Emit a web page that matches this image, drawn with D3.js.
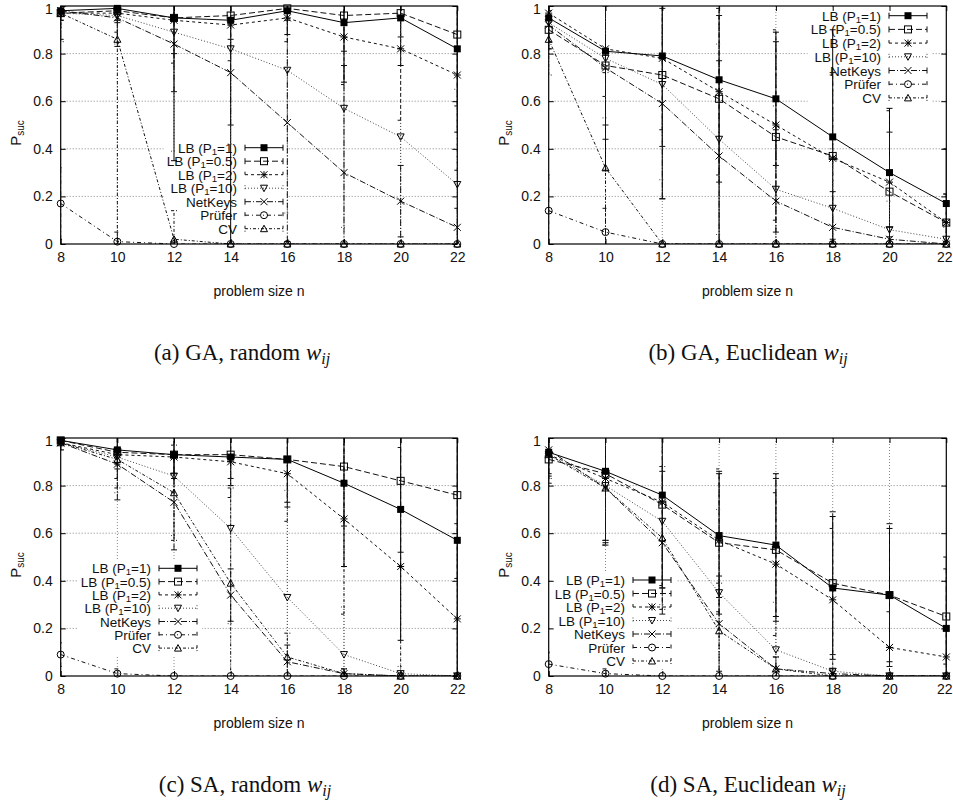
<!DOCTYPE html>
<html>
<head>
<meta charset="utf-8">
<script src="https://cdn.jsdelivr.net/npm/d3@7"></script>
<style>
  body { margin: 0; background: #fff; }
  text { font-family: "Liberation Sans", Arial, sans-serif; fill: #111; }
</style>
</head>
<body>
<script>
// problem sizes and y ticks
var sizes = [8, 10, 12, 14, 16, 18, 20, 22];
var yTicks = [0, 0.2, 0.4, 0.6, 0.8, 1];
var seriesNames = ["LB (P1=1)", "LB (P1=0.5)", "LB (P1=2)", "LB (P1=10)", "NetKeys", "Prüfer", "CV"];

// (a) GA, random w_ij  -- one row per series, same order as seriesNames
var gaRandomVals = [
  [0.98, 0.99, 0.95, 0.94, 0.98, 0.93, 0.95, 0.82],
  [0.97, 0.98, 0.95, 0.96, 0.99, 0.96, 0.97, 0.88],
  [0.97, 0.97, 0.94, 0.92, 0.95, 0.87, 0.82, 0.71],
  [0.97, 0.96, 0.89, 0.82, 0.73, 0.57, 0.45, 0.25],
  [0.98, 0.95, 0.84, 0.72, 0.51, 0.30, 0.18, 0.07],
  [0.17, 0.01, 0, 0, 0, 0, 0, 0],
  [0.97, 0.86, 0.02, 0, 0, 0, 0, 0]
];
var gaRandomErr = [
  [0.04, 0.05, 0.6, 0.95, 0.1, 0.25, 0.2, 0.35],
  [0.03, 0.05, 0.15, 0.1, 0.05, 0.15, 0.1, 0.3],
  [0.05, 0.08, 0.18, 0.15, 0.1, 0.2, 0.3, 0.4],
  [0.06, 0.12, 0.5, 0.4, 0.6, 0.5, 0.5, 0.4],
  [0.12, 0.12, 0.2, 0.22, 0.5, 0.45, 0.15, 0.08],
  [0.15, 0.04, 0, 0, 0, 0, 0, 0],
  [0.12, 0.86, 0.12, 0, 0, 0, 0, 0]
];

// (b) GA, Euclidean w_ij
var gaEuclidVals = [
  [0.95, 0.81, 0.79, 0.69, 0.61, 0.45, 0.30, 0.17],
  [0.90, 0.75, 0.71, 0.61, 0.45, 0.37, 0.22, 0.09],
  [0.97, 0.82, 0.78, 0.64, 0.50, 0.36, 0.26, 0.09],
  [0.93, 0.78, 0.67, 0.44, 0.23, 0.15, 0.06, 0.02],
  [0.92, 0.74, 0.59, 0.37, 0.18, 0.07, 0.02, 0.0],
  [0.14, 0.05, 0, 0, 0, 0, 0, 0],
  [0.86, 0.32, 0, 0, 0, 0, 0, 0]
];
var gaEuclidErr = [
  [0.1, 0.5, 0.6, 0.7, 0.28, 0.45, 0.27, 0.23],
  [0.08, 0.25, 0.3, 0.35, 0.4, 0.35, 0.25, 0.12],
  [0.06, 0.2, 0.3, 0.35, 0.4, 0.35, 0.3, 0.12],
  [0.08, 0.25, 0.4, 0.4, 0.35, 0.25, 0.12, 0.05],
  [0.1, 0.3, 0.4, 0.4, 0.3, 0.15, 0.05, 0.01],
  [0.15, 0.1, 0, 0, 0, 0, 0, 0],
  [0.15, 0.4, 0, 0, 0, 0, 0, 0]
];

// (c) SA, random w_ij
var saRandomVals = [
  [0.99, 0.95, 0.93, 0.92, 0.91, 0.81, 0.70, 0.57],
  [0.99, 0.94, 0.93, 0.93, 0.91, 0.88, 0.82, 0.76],
  [0.98, 0.93, 0.92, 0.90, 0.85, 0.66, 0.46, 0.24],
  [0.98, 0.92, 0.84, 0.62, 0.33, 0.09, 0.01, 0],
  [0.98, 0.89, 0.73, 0.34, 0.06, 0.01, 0, 0],
  [0.09, 0.01, 0, 0, 0, 0, 0, 0],
  [0.98, 0.91, 0.77, 0.39, 0.08, 0.01, 0, 0]
];
var saRandomErr = [
  [0.01, 0.06, 0.1, 0.12, 0.18, 0.35, 0.55, 0.6],
  [0.01, 0.07, 0.08, 0.1, 0.2, 0.25, 0.3, 0.35],
  [0.02, 0.1, 0.15, 0.15, 0.2, 0.4, 0.5, 0.4],
  [0.03, 0.15, 0.25, 0.4, 0.45, 0.2, 0.03, 0],
  [0.03, 0.15, 0.2, 0.11, 0.07, 0.02, 0, 0],
  [0.05, 0.02, 0, 0, 0, 0, 0, 0],
  [0.03, 0.12, 0.2, 0.4, 0.1, 0.02, 0, 0]
];

// (d) SA, Euclidean w_ij
var saEuclidVals = [
  [0.94, 0.86, 0.76, 0.59, 0.55, 0.37, 0.34, 0.20],
  [0.91, 0.85, 0.72, 0.56, 0.53, 0.39, 0.34, 0.25],
  [0.93, 0.83, 0.73, 0.57, 0.47, 0.32, 0.12, 0.08],
  [0.93, 0.80, 0.65, 0.35, 0.11, 0.02, 0, 0],
  [0.95, 0.79, 0.56, 0.22, 0.03, 0.01, 0, 0],
  [0.05, 0.01, 0, 0, 0, 0, 0, 0],
  [0.93, 0.79, 0.58, 0.19, 0.03, 0, 0, 0]
];
var saEuclidErr = [
  [0.1, 0.3, 0.39, 0.26, 0.3, 0.3, 0.28, 0.3],
  [0.1, 0.3, 0.35, 0.3, 0.3, 0.3, 0.3, 0.2],
  [0.1, 0.28, 0.35, 0.3, 0.3, 0.3, 0.15, 0.12],
  [0.1, 0.25, 0.35, 0.35, 0.2, 0.05, 0, 0],
  [0.1, 0.22, 0.3, 0.2, 0.05, 0.02, 0, 0],
  [0.05, 0.02, 0, 0, 0, 0, 0, 0],
  [0.1, 0.22, 0.3, 0.2, 0.05, 0, 0, 0]
];

var captions = ["(a) GA, random ", "(b) GA, Euclidean ", "(c) SA, random ", "(d) SA, Euclidean "];

// line styles per series (gnuplot-like dash types)
var dashes = [null, "6,3", "3,3", "1,2", "6,2,1,2", "4,3,1,3", "3,2,1,2"];
var lineColors = ["#000", "#111", "#111", "#444", "#111", "#111", "#111"];
var markers = ["fsq", "osq", "star", "dtri", "cross", "circ", "utri"];

var panels = [
  { id: "a", vals: gaRandomVals, err: gaRandomErr, cap: captions[0], capX: 242,
    left: 60.7, right: 457.3, top: 6, bottom: 244, legX: 237, legY: 147.7, legStep: 13.5 },
  { id: "b", vals: gaEuclidVals, err: gaEuclidErr, cap: captions[1], capX: 748,
    left: 548.7, right: 946.3, top: 6, bottom: 244, legX: 881, legY: 15.7, legStep: 13.7 },
  { id: "c", vals: saRandomVals, err: saRandomErr, cap: captions[2], capX: 245,
    left: 60.7, right: 457.3, top: 438, bottom: 676, legX: 151, legY: 568.3, legStep: 13.3 },
  { id: "d", vals: saEuclidVals, err: saEuclidErr, cap: captions[3], capX: 748,
    left: 548.7, right: 946.3, top: 438, bottom: 676, legX: 625, legY: 580, legStep: 13.5 }
];

var svg = d3.select("body").append("svg")
  .attr("width", 953)
  .attr("height", 804);

function drawMarker(g, type, cx, cy) {
  var s = 3.5;
  if (type === "fsq") {
    g.append("rect").attr("x", cx - s).attr("y", cy - s).attr("width", 2 * s).attr("height", 2 * s)
      .attr("fill", "#000");
  } else if (type === "osq") {
    g.append("rect").attr("x", cx - s).attr("y", cy - s).attr("width", 2 * s).attr("height", 2 * s)
      .attr("fill", "none").attr("stroke", "#000").attr("stroke-width", 1);
  } else if (type === "star") {
    g.append("path")
      .attr("d", "M" + (cx - s) + "," + cy + "H" + (cx + s) + "M" + cx + "," + (cy - s) + "V" + (cy + s) +
        "M" + (cx - s) + "," + (cy - s) + "L" + (cx + s) + "," + (cy + s) +
        "M" + (cx - s) + "," + (cy + s) + "L" + (cx + s) + "," + (cy - s))
      .attr("stroke", "#000").attr("stroke-width", 1).attr("fill", "none");
  } else if (type === "cross") {
    g.append("path")
      .attr("d", "M" + (cx - s) + "," + (cy - s) + "L" + (cx + s) + "," + (cy + s) +
        "M" + (cx - s) + "," + (cy + s) + "L" + (cx + s) + "," + (cy - s))
      .attr("stroke", "#000").attr("stroke-width", 1).attr("fill", "none");
  } else if (type === "circ") {
    g.append("circle").attr("cx", cx).attr("cy", cy).attr("r", s)
      .attr("fill", "none").attr("stroke", "#000").attr("stroke-width", 1);
  } else if (type === "dtri") {
    g.append("path")
      .attr("d", "M" + (cx - s) + "," + (cy - s + 0.5) + "L" + (cx + s) + "," + (cy - s + 0.5) + "L" + cx + "," + (cy + s) + "Z")
      .attr("fill", "none").attr("stroke", "#000").attr("stroke-width", 1);
  } else if (type === "utri") {
    g.append("path")
      .attr("d", "M" + (cx - s) + "," + (cy + s - 0.5) + "L" + (cx + s) + "," + (cy + s - 0.5) + "L" + cx + "," + (cy - s) + "Z")
      .attr("fill", "none").attr("stroke", "#000").attr("stroke-width", 1);
  }
}

// label text with P1 subscript
function richLabel(textSel, label, size) {
  var parts = label.split("P1");
  if (parts.length === 1) {
    textSel.append("tspan").text(label);
    return;
  }
  textSel.append("tspan").text(parts[0] + "P");
  textSel.append("tspan").attr("dy", 2).style("font-size", (size * 0.72) + "px").text("1");
  textSel.append("tspan").attr("dy", -2).text(parts[1]);
}

panels.forEach(function(p) {
  var x = d3.scaleLinear().domain([8, 22]).range([p.left, p.right]);
  var y = d3.scaleLinear().domain([0, 1]).range([p.bottom, p.top]);
  var g = svg.append("g").attr("class", "panel-" + p.id);

  svg.append("clipPath").attr("id", "clip-" + p.id)
    .append("rect")
      .attr("x", p.left).attr("y", p.top)
      .attr("width", p.right - p.left).attr("height", p.bottom - p.top);

  // grid
  var grid = g.append("g").attr("class", "grid")
    .attr("stroke", "#888").attr("stroke-width", 1).attr("stroke-dasharray", "1,2");
  grid.selectAll(".gx").data(sizes.slice(1, -1)).enter().append("line")
    .attr("x1", function(d) { return x(d); }).attr("x2", function(d) { return x(d); })
    .attr("y1", p.top).attr("y2", p.bottom);
  grid.selectAll(".gy").data(yTicks.slice(1, -1)).enter().append("line")
    .attr("x1", p.left).attr("x2", p.right)
    .attr("y1", function(d) { return y(d); }).attr("y2", function(d) { return y(d); });

  // legend box (opaque)
  var legFont = 13.5;
  var leg = g.append("g").attr("class", "legend");
  var legBg = leg.append("rect").attr("fill", "#fff");
  var sx0 = p.legX + 8, sx1 = p.legX + 46, sxm = p.legX + 27;
  var texts = [];
  seriesNames.forEach(function(name, i) {
    var ly = p.legY + i * p.legStep;
    var t = leg.append("text")
      .attr("x", p.legX).attr("y", ly + 5)
      .attr("text-anchor", "end")
      .style("font-size", legFont + "px");
    richLabel(t, name, legFont);
    texts.push(t);
  });
  var minLeft = d3.min(texts, function(t) { return t.node().getBBox().x; });
  legBg.attr("x", minLeft - 3).attr("y", p.legY - 8)
    .attr("width", sx1 + 5 - (minLeft - 3))
    .attr("height", (seriesNames.length - 1) * p.legStep + 16);
  seriesNames.forEach(function(name, i) {
    var ly = p.legY + i * p.legStep;
    var sg = leg.append("g");
    sg.append("path")
      .attr("d", "M" + sx0 + "," + ly + "H" + sx1 +
        "M" + sx0 + "," + (ly - 3) + "V" + (ly + 3) +
        "M" + sx1 + "," + (ly - 3) + "V" + (ly + 3))
      .attr("stroke", lineColors[i]).attr("stroke-width", 1).attr("fill", "none")
      .attr("stroke-dasharray", dashes[i]);
    drawMarker(sg, markers[i], sxm, ly);
  });

  // data: error bars, lines, points
  var data = g.append("g").attr("clip-path", "url(#clip-" + p.id + ")");
  var line = d3.line()
    .x(function(d, j) { return x(sizes[j]); })
    .y(function(d) { return y(d); });
  p.vals.forEach(function(row, i) {
    var sg = data.append("g").attr("class", "series-" + i);
    row.forEach(function(v, j) {
      var e = p.err[i][j];
      if (e <= 0) return;
      var cx = x(sizes[j]);
      var lo = y(Math.max(v - e, -0.05)), hi = y(Math.min(v + e, 1.05));
      var d = "M" + cx + "," + lo + "V" + hi;
      if (v - e >= 0) d += "M" + (cx - 3) + "," + lo + "H" + (cx + 3);
      if (v + e <= 1) d += "M" + (cx - 3) + "," + hi + "H" + (cx + 3);
      sg.append("path").attr("d", d)
        .attr("stroke", lineColors[i]).attr("stroke-width", 1).attr("fill", "none")
        .attr("stroke-dasharray", dashes[i]);
    });
    sg.append("path").datum(row)
      .attr("d", line)
      .attr("fill", "none").attr("stroke", lineColors[i]).attr("stroke-width", 1)
      .attr("stroke-dasharray", dashes[i]);
  });
  var pts = g.append("g");
  p.vals.forEach(function(row, i) {
    row.forEach(function(v, j) { drawMarker(pts, markers[i], x(sizes[j]), y(v)); });
  });

  // border
  g.append("rect")
    .attr("x", p.left).attr("y", p.top)
    .attr("width", p.right - p.left).attr("height", p.bottom - p.top)
    .attr("fill", "none").attr("stroke", "#000").attr("stroke-width", 1.2);

  // axes with inward ticks
  var fmt = d3.format("~g");
  var ax = g.append("g").attr("transform", "translate(0," + p.bottom + ")")
    .call(d3.axisBottom(x).tickValues(sizes).tickSizeInner(-5).tickSizeOuter(0).tickPadding(8));
  var axT = g.append("g").attr("transform", "translate(0," + p.top + ")")
    .call(d3.axisTop(x).tickValues(sizes).tickSizeInner(-5).tickSizeOuter(0).tickFormat(""));
  var ay = g.append("g").attr("transform", "translate(" + p.left + ",0)")
    .call(d3.axisLeft(y).tickValues(yTicks).tickFormat(fmt).tickSizeInner(-5).tickSizeOuter(0).tickPadding(8));
  var ayR = g.append("g").attr("transform", "translate(" + p.right + ",0)")
    .call(d3.axisRight(y).tickValues(yTicks).tickFormat("").tickSizeInner(-5).tickSizeOuter(0));
  [ax, axT, ay, ayR].forEach(function(a) {
    a.select(".domain").remove();
    a.selectAll("text").style("font-size", "14px")
      .style("font-family", "'Liberation Sans', Arial, sans-serif").attr("fill", "#111");
  });
  // keep the extreme labels inside the page
  ay.selectAll(".tick text").filter(function(d) { return d === 1; }).attr("dy", "0.5em");
  if (p.right > 900) {
    ax.selectAll(".tick text").filter(function(d) { return d === 22; }).attr("dx", "-2");
  }

  // axis titles
  var midX = (p.left + p.right) / 2;
  g.append("text")
    .attr("x", midX).attr("y", p.bottom + 52)
    .attr("text-anchor", "middle")
    .style("font-size", "14px")
    .text("problem size n");

  var yl = g.append("text")
    .attr("transform", "translate(" + (p.left - 40) + "," + ((p.top + p.bottom) / 2 + 8) + ") rotate(-90)")
    .attr("text-anchor", "middle")
    .style("font-size", "15px");
  yl.append("tspan").text("P");
  yl.append("tspan").attr("dy", 3).style("font-size", "10px").text("suc");

  // caption
  var cap = g.append("text")
    .attr("x", p.capX).attr("y", p.bottom + 116)
    .attr("text-anchor", "middle")
    .style("font-family", "'Liberation Serif', 'DejaVu Serif', serif")
    .style("font-size", "23px");
  cap.append("tspan").text(p.cap);
  cap.append("tspan").style("font-style", "italic").text("w");
  cap.append("tspan").attr("dy", 4).style("font-style", "italic").style("font-size", "16px").text("ij");
});
</script>
</body>
</html>
